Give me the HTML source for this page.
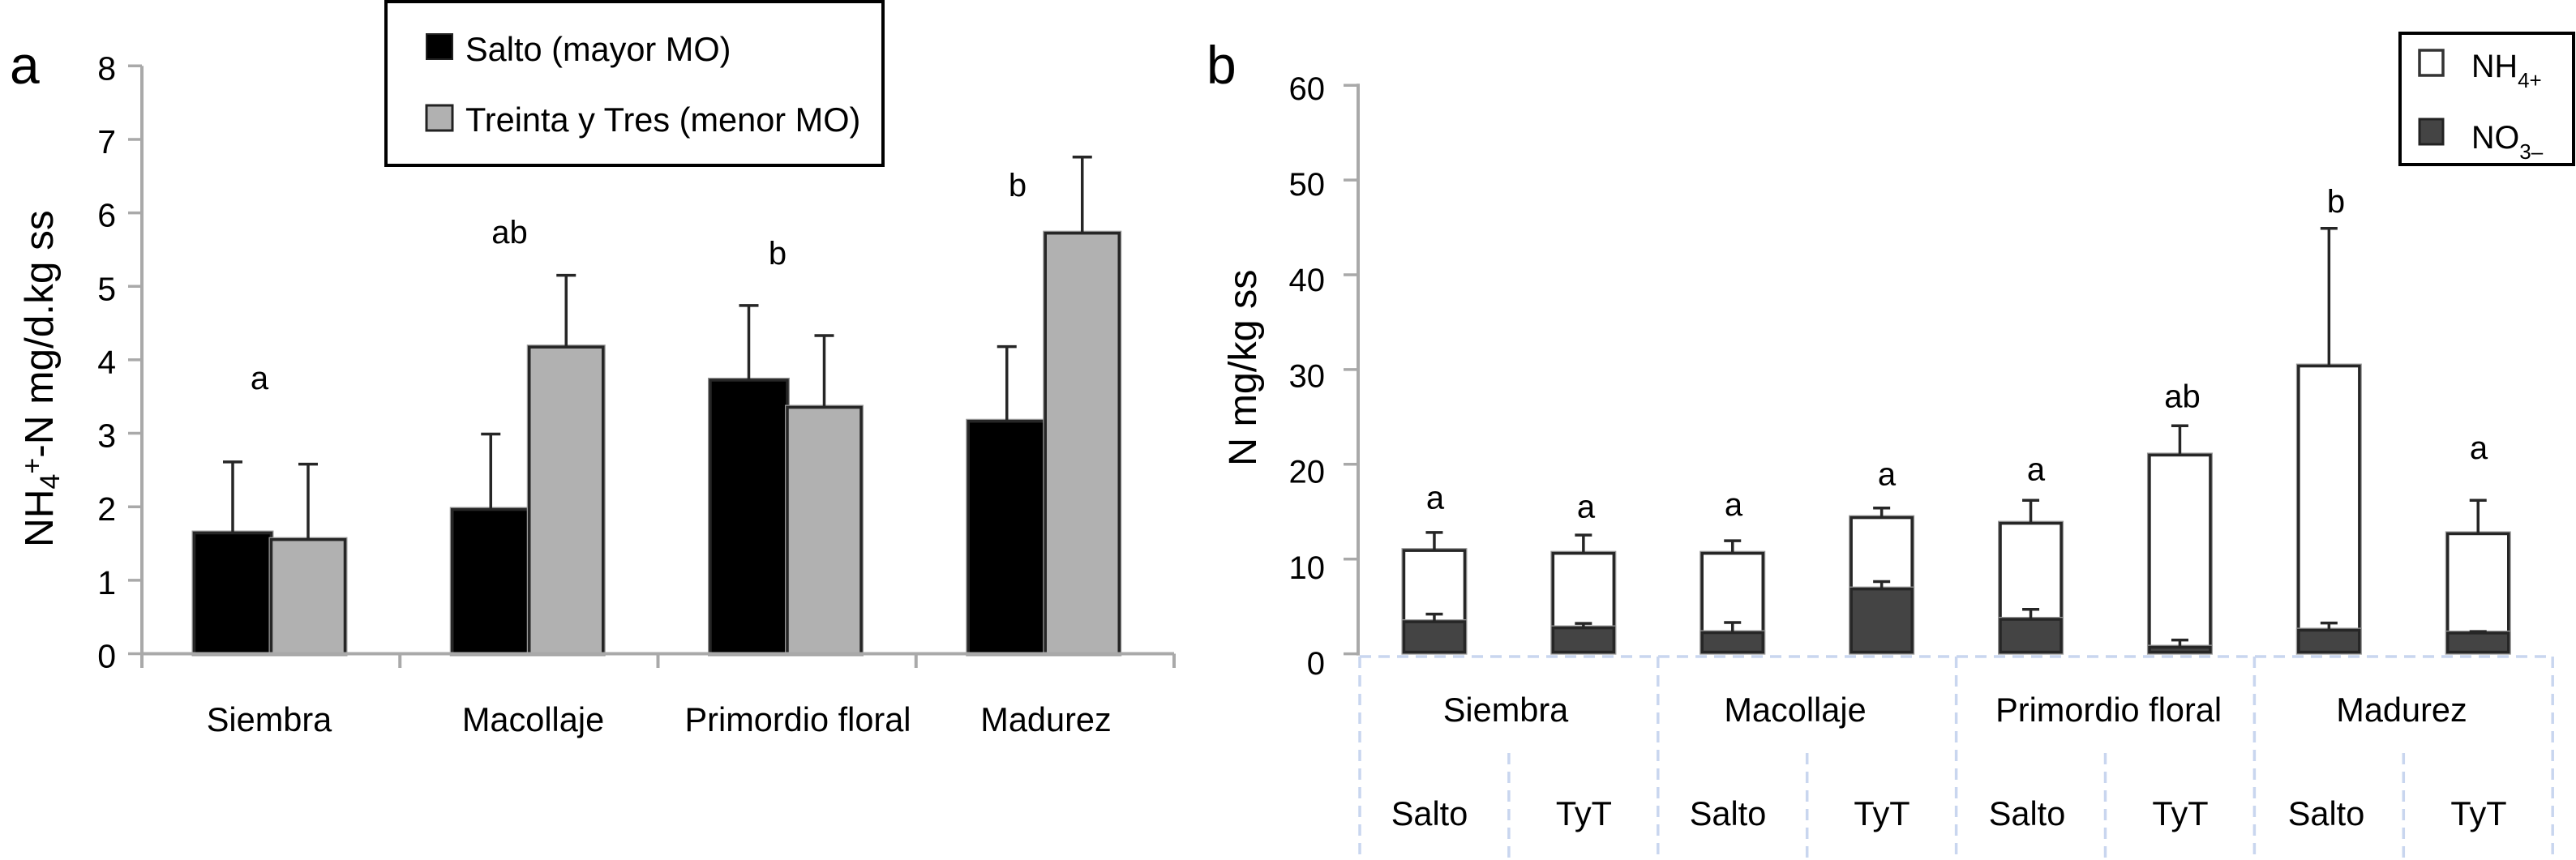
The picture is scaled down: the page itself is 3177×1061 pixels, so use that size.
<!DOCTYPE html>
<html lang="es">
<head>
<meta charset="utf-8">
<title>NH4 and N by growth stage</title>
<style>
html,body{margin:0;padding:0;background:#fff;}
svg{display:block;font-family:"Liberation Sans",Arial,sans-serif;fill:#000;}
</style>
</head>
<body>
<svg id="chart" xmlns="http://www.w3.org/2000/svg" width="3177" height="1061" viewBox="0 0 3177 1061">
  <rect x="0" y="0" width="3177" height="1061" fill="#fff"/>

  <text x="12" y="103" font-size="66">a</text>
  <text x="1488" y="103" font-size="66">b</text>

  <text transform="translate(65 675) rotate(-90)" font-size="49.5">NH<tspan font-size="34" dy="8">4</tspan><tspan font-size="34" dy="-22">+</tspan><tspan dy="14">-N mg/d.kg ss</tspan></text>
  <text transform="translate(1549 575) rotate(-90)" font-size="48.5">N mg/kg ss</text>
</svg>
<script>
// Panel a data
const aCategories = ['Siembra', 'Macollaje', 'Primordio floral', 'Madurez'];
const aSalto = [1.66, 1.98, 3.74, 3.18];
const aTyT = [1.57, 4.19, 3.37, 5.74];
const aSaltoErrTop = [2.61, 2.99, 4.74, 4.18];
const aTyTErrTop = [2.58, 5.15, 4.33, 6.76];
const aLetters = ['a', 'ab', 'b', 'b'];
const aLetterLevels = [3.60, 5.59, 5.30, 6.23];
const aTicks = [0, 1, 2, 3, 4, 5, 6, 7, 8];

// Panel b data
const bStages = ['Siembra', 'Macollaje', 'Primordio floral', 'Madurez'];
const bSites = ['Salto', 'TyT', 'Salto', 'TyT', 'Salto', 'TyT', 'Salto', 'TyT'];
const bNO3 = [3.51, 2.87, 2.36, 6.97, 3.77, 0.82, 2.62, 2.32];
const bNH4 = [7.52, 7.86, 8.37, 7.53, 10.13, 20.28, 27.88, 10.48];
const bNO3Err = [0.68, 0.34, 0.94, 0.65, 0.92, 0.63, 0.63, 0.03];
const bNH4Err = [1.78, 1.80, 1.20, 0.88, 2.30, 2.97, 14.40, 3.40];
const bLetters = ['a', 'a', 'a', 'a', 'a', 'ab', 'b', 'a'];
const bLetterLevels = [15.3, 14.4, 14.6, 17.8, 18.3, 26.0, 46.6, 20.6];
const bTicks = [0, 10, 20, 30, 40, 50, 60];

const svg = document.getElementById('chart');
const NS = 'http://www.w3.org/2000/svg';

function make(tag, attrs, parent) {
  const el = document.createElementNS(NS, tag);
  for (const k in attrs) el.setAttribute(k, attrs[k]);
  (parent || svg).appendChild(el);
  return el;
}

// Axis functions
const ay = v => 806.5 - v * 90.65;
const aBand = i => 175 + i * 318.25;
const by = v => 806.6 - v * 11.69;
const bBand = i => 1677 + i * 183.9;
const bLabelY = v => 832 - v * 11.82;

const AXIS = '#a9a9a9';
const DASH = '#c9d6ef';

function drawBar(parent, x, w, top, bottom, fill, name) {
  const y = top + 1.5;
  const halo = make('rect', {x: x, y: y, width: w, height: bottom - y, fill: fill, stroke: '#999', 'stroke-width': 6}, parent);
  
  
  const el = make('rect', {x: x, y: y, width: w, height: bottom - y, fill: fill, stroke: '#262626', 'stroke-width': 3.5}, parent);
  
  
}

function drawError(parent, cx, from, to, cap, name) {
  const g = make('g', {stroke: '#262626', 'stroke-width': 3.5}, parent);
  
  
  make('line', {x1: cx, x2: cx, y1: from, y2: to}, g);
  make('line', {x1: cx - cap / 2, x2: cx + cap / 2, y1: to, y2: to}, g);
}

function label(parent, x, y, txt, size, anchor, name) {
  const t = make('text', {x: x, y: y, 'font-size': size, 'text-anchor': anchor}, parent);
  t.textContent = txt;
  
  
  return t;
}

/* ---------- Panel a ---------- */
const pa = make('g', {});



aCategories.forEach((c, i) => {
  const left = aBand(i) + 64.5;
  const bwA = 95;
  const gwA = 91;
  drawBar(pa, left, bwA, ay(aSalto[i]), ay(0), '#000', 'bar-salto-' + i);
  drawBar(pa, left + bwA, gwA, ay(aTyT[i]), ay(0), '#b1b1b1', 'bar-tyt-' + i);
  drawError(pa, left + bwA / 2, ay(aSalto[i]), ay(aSaltoErrTop[i]), 24, 'error-salto-' + i);
  drawError(pa, left + bwA + gwA / 2, ay(aTyT[i]), ay(aTyTErrTop[i]), 24, 'error-tyt-' + i);
  const lx = [320, 628.5, 959, 1255][i];
  label(pa, lx, ay(aLetterLevels[i]), aLetters[i], 40, 'middle', 'significance-letter-a-' + i);
  const cx = [332, 657.5, 984, 1290][i];
  label(pa, cx, 902, c, 41.5, 'middle', 'x-category-a-' + i);
});

const ayAxis = make('line', {x1: 175, x2: 175, y1: ay(8), y2: 824, stroke: AXIS, 'stroke-width': 4}, pa);


const axAxis = make('line', {x1: 173, x2: aBand(4), y1: ay(0), y2: ay(0), stroke: AXIS, 'stroke-width': 4}, pa);



aTicks.forEach(v => {
  const tk = make('line', {x1: 158, x2: 175, y1: ay(v), y2: ay(v), stroke: AXIS, 'stroke-width': 3.5}, pa);
  
  
  label(pa, 143, ay(v) + 17, String(v), 41, 'end', 'panel-a-y-tick-label');
});
for (let i = 1; i <= aCategories.length; i++) {
  const tk = make('line', {x1: aBand(i), x2: aBand(i), y1: ay(0), y2: 824, stroke: AXIS, 'stroke-width': 4}, pa);
  
  
}

/* ---------- Panel b ---------- */
const pb = make('g', {});



// Dashed category table below the axis
function dashLine(x1, y1, x2, y2, name) {
  const l = make('line', {x1: x1, y1: y1, x2: x2, y2: y2, stroke: DASH, 'stroke-width': 3.5, 'stroke-dasharray': '14 9'}, pb);
  
  
}
dashLine(bBand(0), 810, bBand(8), 810, 'category-table-top');
for (let i = 0; i <= bSites.length; i++) {
  if (i % 2 === 0) dashLine(bBand(i), 810, bBand(i), 1061, 'stage-divider');
  else dashLine(bBand(i), 929, bBand(i), 1061, 'site-divider');
}

bStages.forEach((s, i) => {
  const sx = [1857, 2214, 2600.6, 2962][i];
  label(pb, sx, 890, s, 41.5, 'middle', 'stage-label-' + i);
});
bSites.forEach((s, i) => {
  const sx = [1763, 1953.4, 2131, 2321, 2500, 2689, 2869, 3057][i];
  label(pb, sx, 1018, s, 41.5, 'middle', 'site-label-' + i);
});

const bw = 75;
bSites.forEach((s, i) => {
  const cx = bBand(i) + 91.95;
  const total = bNO3[i] + bNH4[i];
  drawBar(pb, cx - bw / 2, bw, by(total), by(0) - 2, '#fff', 'bar-nh4-' + i);
  drawError(pb, cx, by(total), by(total + bNH4Err[i]), 21, 'error-nh4-' + i);
  drawBar(pb, cx - bw / 2, bw, by(bNO3[i]), by(0) - 2, '#444', 'bar-no3-' + i);
  drawError(pb, cx, by(bNO3[i]), by(bNO3[i] + bNO3Err[i]), 21, 'error-no3-' + i);
  const lx = [1770, 1956, 2138, 2327, 2511, 2691.5, 2881, 3057][i];
  label(pb, lx, by(bLetterLevels[i]), bLetters[i], 40, 'middle', 'significance-letter-b-' + i);
});

const byAxis = make('line', {x1: 1675, x2: 1675, y1: by(60) - 2, y2: by(0) + 2, stroke: AXIS, 'stroke-width': 4}, pb);



bTicks.forEach(v => {
  const tk = make('line', {x1: 1657, x2: 1675, y1: by(v), y2: by(v), stroke: AXIS, 'stroke-width': 3.5}, pb);
  
  
  label(pb, 1634, bLabelY(v), String(v), 40, 'end', 'panel-b-y-tick-label');
});

/* ---------- Legends (drawn on top) ---------- */
const legA = make('g', {});


legA.innerHTML = '<rect x="476" y="2" width="613" height="202" fill="#fff" stroke="#000" stroke-width="4"/>' +
  '<rect x="526" y="42" width="32" height="31" fill="#000" stroke="#222" stroke-width="2"/>' +
  '<text x="574" y="75" font-size="41.5">Salto (mayor MO)</text>' +
  '<rect x="526" y="130" width="32" height="31" fill="#b1b1b1" stroke="#222" stroke-width="3"/>' +
  '<text x="574" y="162" font-size="41.5">Treinta y Tres (menor MO)</text>';

const legB = make('g', {});


legB.innerHTML = '<rect x="2960" y="41" width="214" height="162" fill="#fff" stroke="#000" stroke-width="4"/>' +
  '<rect x="2984" y="62" width="29" height="31" fill="#fff" stroke="#333" stroke-width="3.5"/>' +
  '<text x="3048" y="95" font-size="39.5">NH<tspan font-size="26" dy="13">4+</tspan></text>' +
  '<rect x="2984" y="147" width="29" height="31" fill="#444" stroke="#222" stroke-width="3"/>' +
  '<text x="3048" y="183" font-size="39.5">NO<tspan font-size="26" dy="13">3–</tspan></text>';
</script>
</body>
</html>
